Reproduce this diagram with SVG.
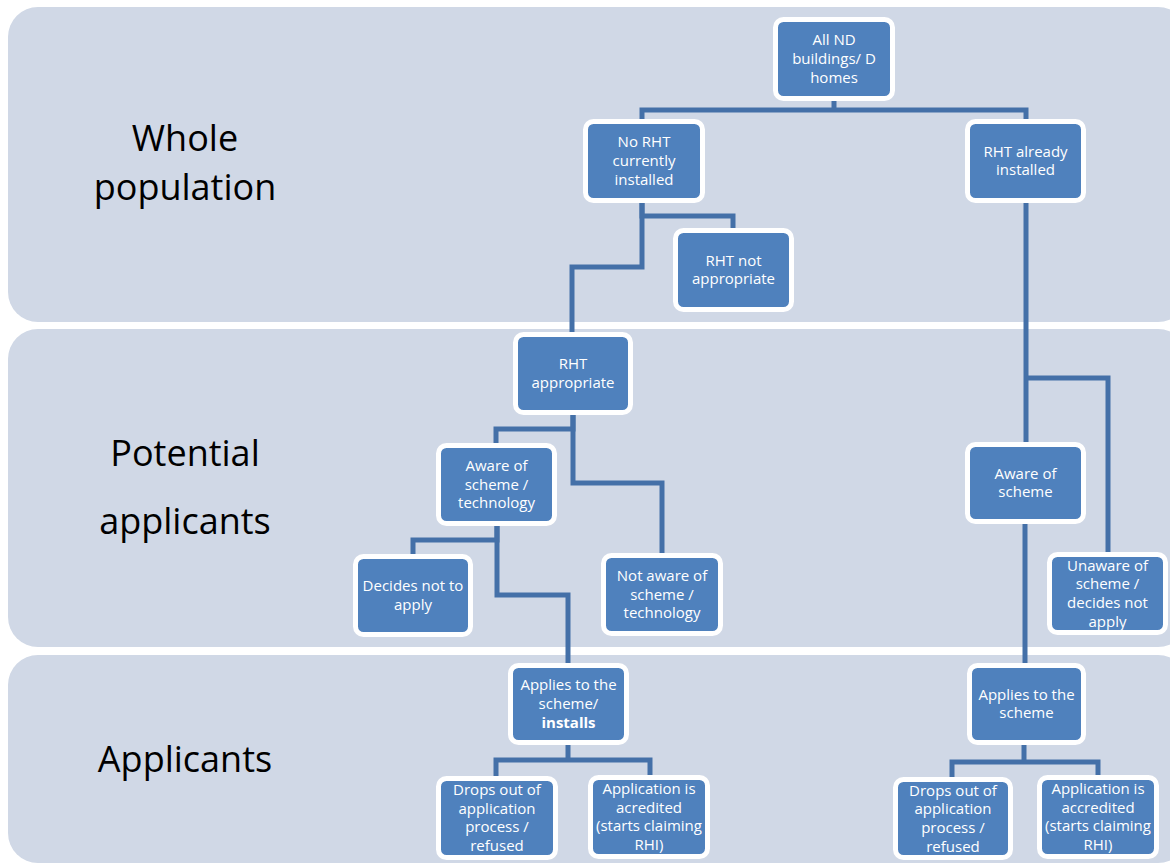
<svg xmlns="http://www.w3.org/2000/svg" width="1170" height="865" viewBox="0 0 1170 865">
<style>
.band{fill:#D0D8E6;}
.lbl{font-family:"Open Sans","Liberation Sans",sans-serif;font-size:36px;fill:#000;text-anchor:middle;}
.box{fill:#4F81BD;stroke:#FFFFFF;stroke-width:5;}
.t{font-family:"Open Sans","Liberation Sans",sans-serif;font-size:15px;fill:#FFFFFF;text-anchor:middle;}
.c{fill:none;stroke:#4470A8;stroke-width:5;stroke-linejoin:miter;}
</style>
<rect width="1170" height="865" fill="#FFFFFF"/>
<g id="bands">
<rect class="band" x="8" y="7" width="1180" height="315" rx="30"/>
<rect class="band" x="8" y="329" width="1180" height="318" rx="30"/>
<rect class="band" x="8" y="655" width="1180" height="208" rx="30"/>
<text class="lbl" x="185" y="151">Whole</text>
<text class="lbl" x="185" y="200">population</text>
<text class="lbl" x="185" y="466">Potential</text>
<text class="lbl" x="185" y="534">applicants</text>
<text class="lbl" x="185" y="772">Applicants</text>
</g>
<g id="connectors">
<path class="c" d="M642,119 V110 H1026 V119 M834,101 V110"/>
<path class="c" d="M642,203 V216 H733 V228"/>
<path class="c" d="M642,203 V267 H572 V332"/>
<path class="c" d="M573,415 V429 H496 V443"/>
<path class="c" d="M573,415 V483 H662 V553"/>
<path class="c" d="M497,526 V540 H413 V554"/>
<path class="c" d="M497,526 V595 H568 V663"/>
<path class="c" d="M496,776 V760 H650 V775 M568,745 V760"/>
<path class="c" d="M1026,203 V442"/>
<path class="c" d="M1026,378 H1108 V552"/>
<path class="c" d="M1025,524 V663"/>
<path class="c" d="M952,777 V762 H1098 V775 M1024,745 V762"/>
</g>
<g id="n1"><rect class="box" x="775.5" y="19.5" width="117" height="79" rx="8"/>
<text class="t"><tspan x="834" y="45.3">All ND</tspan><tspan x="834" y="64">buildings/ D</tspan><tspan x="834" y="82.7">homes</tspan></text></g>
<g id="n2"><rect class="box" x="585.5" y="121.5" width="117" height="79" rx="8"/>
<text class="t"><tspan x="644" y="147.3">No RHT</tspan><tspan x="644" y="166">currently</tspan><tspan x="644" y="184.7">installed</tspan></text></g>
<g id="n3"><rect class="box" x="967.5" y="121.5" width="116" height="79" rx="8"/>
<text class="t"><tspan x="1025.5" y="156.6">RHT already</tspan><tspan x="1025.5" y="175.4">installed</tspan></text></g>
<g id="n4"><rect class="box" x="675.5" y="230.5" width="116" height="79" rx="8"/>
<text class="t"><tspan x="733.5" y="265.6">RHT not</tspan><tspan x="733.5" y="284.4">appropriate</tspan></text></g>
<g id="n5"><rect class="box" x="515.5" y="334.5" width="115" height="78" rx="8"/>
<text class="t"><tspan x="573" y="369">RHT</tspan><tspan x="573" y="388">appropriate</tspan></text></g>
<g id="n6"><rect class="box" x="438.5" y="445.5" width="116" height="78" rx="8"/>
<text class="t"><tspan x="496.5" y="470.8">Aware of</tspan><tspan x="496.5" y="489.5">scheme /</tspan><tspan x="496.5" y="508.2">technology</tspan></text></g>
<g id="n7"><rect class="box" x="355.5" y="556.5" width="115" height="78" rx="8"/>
<text class="t"><tspan x="413" y="591">Decides not to</tspan><tspan x="413" y="610">apply</tspan></text></g>
<g id="n8"><rect class="box" x="603.5" y="555.5" width="117" height="78" rx="8"/>
<text class="t"><tspan x="662" y="580.8">Not aware of</tspan><tspan x="662" y="599.5">scheme /</tspan><tspan x="662" y="618.2">technology</tspan></text></g>
<g id="n9"><rect class="box" x="967.5" y="444.5" width="116" height="77" rx="8"/>
<text class="t"><tspan x="1025.5" y="478.6">Aware of</tspan><tspan x="1025.5" y="497.4">scheme</tspan></text></g>
<g id="n10"><rect class="box" x="1049.5" y="554.5" width="116" height="78" rx="8"/>
<text class="t"><tspan x="1107.5" y="570.5">Unaware of</tspan><tspan x="1107.5" y="589.2">scheme /</tspan><tspan x="1107.5" y="607.8">decides not</tspan><tspan x="1107.5" y="626.5">apply</tspan></text></g>
<g id="n11"><rect class="box" x="510.5" y="665.5" width="116" height="77" rx="8"/>
<text class="t"><tspan x="568.5" y="690.3">Applies to the</tspan><tspan x="568.5" y="709">scheme/</tspan><tspan x="568.5" y="727.7" font-weight="bold">installs</tspan></text></g>
<g id="n12"><rect class="box" x="438.5" y="778.5" width="117" height="79" rx="8"/>
<text class="t"><tspan x="497" y="795">Drops out of</tspan><tspan x="497" y="813.7">application</tspan><tspan x="497" y="832.3">process /</tspan><tspan x="497" y="851">refused</tspan></text></g>
<g id="n13"><rect class="box" x="590.5" y="777.5" width="117" height="79" rx="8"/>
<text class="t"><tspan x="649" y="794">Application is</tspan><tspan x="649" y="812.7">acredited</tspan><tspan x="649" y="831.3">(starts claiming</tspan><tspan x="649" y="850">RHI)</tspan></text></g>
<g id="n14"><rect class="box" x="969.5" y="665.5" width="114" height="77" rx="8"/>
<text class="t"><tspan x="1026.5" y="699.6">Applies to the</tspan><tspan x="1026.5" y="718.4">scheme</tspan></text></g>
<g id="n15"><rect class="box" x="895.5" y="779.5" width="115" height="78" rx="8"/>
<text class="t"><tspan x="953" y="795.5">Drops out of</tspan><tspan x="953" y="814.2">application</tspan><tspan x="953" y="832.8">process /</tspan><tspan x="953" y="851.5">refused</tspan></text></g>
<g id="n16"><rect class="box" x="1039.5" y="777.5" width="117" height="79" rx="8"/>
<text class="t"><tspan x="1098" y="794">Application is</tspan><tspan x="1098" y="812.7">accredited</tspan><tspan x="1098" y="831.3">(starts claiming</tspan><tspan x="1098" y="850">RHI)</tspan></text></g>
</svg>
